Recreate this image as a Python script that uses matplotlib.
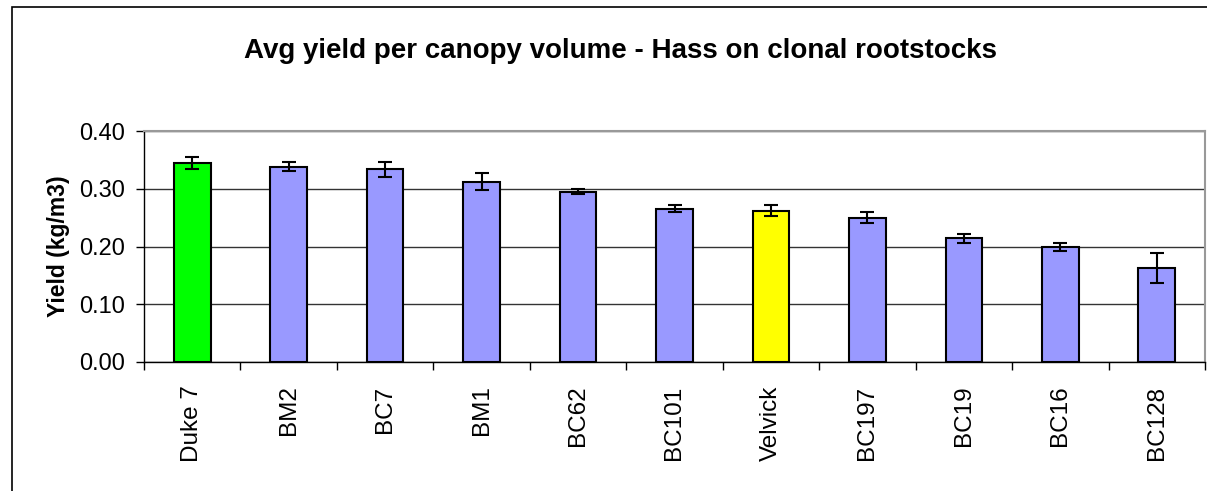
import matplotlib.pyplot as plt
import matplotlib.patches as patches
import numpy as np

plt.rcParams['font.family'] = ['Liberation Sans', 'DejaVu Sans']

# data
rootstocks = ['Duke 7', 'BM2', 'BC7', 'BM1', 'BC62', 'BC101',
              'Velvick', 'BC197', 'BC19', 'BC16', 'BC128']
yields = [0.345, 0.338, 0.334, 0.312, 0.295, 0.265,
          0.262, 0.250, 0.214, 0.199, 0.163]
errors = [0.010, 0.008, 0.013, 0.0145, 0.004, 0.006,
          0.0095, 0.0095, 0.008, 0.0075, 0.0255]
bar_colors = ['#00FF00'] + ['#9999FF'] * 5 + ['#FFFF00'] + ['#9999FF'] * 4

fig = plt.figure(figsize=(12.07, 4.91), dpi=100)
ax = fig.add_axes([144 / 1207, 1 - 362 / 491, (1205 - 144) / 1207, (362 - 131) / 491])

x = np.arange(len(rootstocks))
ax.bar(x, yields, width=0.38, color=bar_colors, edgecolor='black', linewidth=1.5, zorder=3)
ax.errorbar(x, yields, yerr=errors, fmt='none', ecolor='black',
            elinewidth=1.5, capsize=5, capthick=1.5, zorder=4)

ax.set_xlim(-0.5, len(rootstocks) - 0.5)
ax.set_ylim(0, 0.40)
ax.set_yticks([0.0, 0.1, 0.2, 0.3, 0.4])
ax.set_yticklabels(['0.00', '0.10', '0.20', '0.30', '0.40'], fontsize=17)
ax.yaxis.grid(True, color='#333333', linewidth=1.0, zorder=0)
ax.set_axisbelow(True)

ax.set_xticks(x)
ax.set_xticklabels(rootstocks, rotation=90, fontsize=17.5, va='top')
ax.set_xticks(np.arange(-0.5, len(rootstocks)), minor=True)
ax.tick_params(axis='x', which='major', length=0, pad=17)
ax.tick_params(axis='x', which='minor', length=6, width=1, color='black', direction='out')
ax.tick_params(axis='y', length=6, width=1, direction='out', pad=8)

for side in ['top', 'right']:
    ax.spines[side].set_color('#999999')
    ax.spines[side].set_linewidth(1.5)
for side in ['left', 'bottom']:
    ax.spines[side].set_color('black')
    ax.spines[side].set_linewidth(1.0)

ax.set_ylabel('Yield (kg/m3)', fontsize=16.5, fontweight='bold')
ax.yaxis.set_label_coords((70 - 144) / (1205 - 144), 0.5)

fig.text(620 / 1207, 1 - 51 / 491, 'Avg yield per canopy volume - Hass on clonal rootstocks',
         ha='center', va='center', fontsize=20, fontweight='bold')

# chart area border
border = patches.Rectangle((12 / 1207, -0.1), 1.2, 1 - 7 / 491 + 0.1,
                           transform=fig.transFigure, fill=False,
                           edgecolor='black', linewidth=1.2)
fig.patches.append(border)

fig.savefig('out.png', dpi=100)
